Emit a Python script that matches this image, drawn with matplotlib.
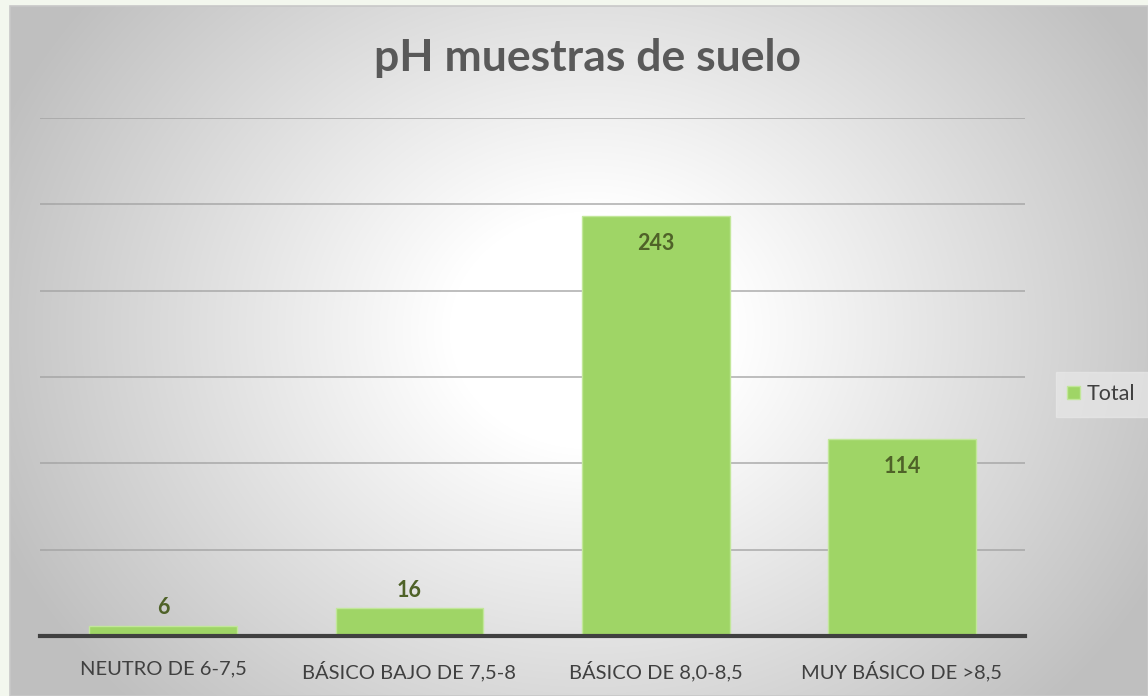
import numpy as np
import matplotlib.pyplot as plt
from matplotlib.patches import Rectangle

categories = ["NEUTRO DE 6-7,5", "BÁSICO BAJO DE 7,5-8", "BÁSICO DE 8,0-8,5", "MUY BÁSICO DE >8,5"]
values = [6, 16, 243, 114]
series_name = "Total"
title = "pH muestras de suelo"

plt.rcParams['font.family'] = ['Lato', 'DejaVu Sans']

W, H = 1148, 696
fig = plt.figure(figsize=(W / 100, H / 100), dpi=100)
fig.patch.set_facecolor('white')

# page background strip + chart frame with radial gradient
bg = fig.add_axes([0, 0, 1, 1])
bg.set_xlim(0, W)
bg.set_ylim(H, 0)
bg.axis('off')
bg.add_patch(Rectangle((0, 0), W, H, color='#f3f7ee', zorder=0))
x0, y0 = 10, 6
yy, xx = np.mgrid[0:H - y0, 0:W - x0]
cx, cy = 590 - x0, 330 - y0
r = np.sqrt(((xx - cx) / 640.0) ** 2 + ((yy - cy) / 540.0) ** 2)
v = np.clip(1.0 - 0.25 * np.clip(r - 0.22, 0, None) / 0.78, 0.75, 1.0)
img = np.dstack([v, v, v])
bg.imshow(img, extent=(x0, W, H, y0), zorder=1, interpolation='bilinear', aspect='auto')
bg.add_patch(Rectangle((x0, y0), W - x0, H - y0, fill=False, edgecolor='#c8c8c8', lw=1.2, zorder=2))

# plot area
left, right, top, bottom = 40, 1025, 118, 636
ax = fig.add_axes([left / W, 1 - bottom / H, (right - left) / W, (bottom - top) / H])
ax.set_facecolor('none')
x = np.arange(len(categories))
bars = ax.bar(x, values, width=0.6, color='#9fd566', edgecolor='#c2e79a', linewidth=1.0,
              zorder=3, label=series_name)
ax.set_xlim(-0.5, len(categories) - 0.5)
ax.set_ylim(0, 300)
ax.set_yticks(np.arange(0, 301, 50))
ax.yaxis.grid(True, color='#a0a0a0', linewidth=1.2, alpha=0.8, zorder=0)
ax.tick_params(axis='y', left=False, labelleft=False)
ax.tick_params(axis='x', bottom=False, pad=14)
ax.set_xticks(x)
ax.set_xticklabels(categories, fontsize=14.5, color='#404040')
for s in ['top', 'left', 'right']:
    ax.spines[s].set_visible(False)
ax.spines['bottom'].set_color('#404040')
ax.spines['bottom'].set_linewidth(3)
ax.spines['bottom'].set_zorder(4)

for xi, v_ in zip(x, values):
    off = -27 if v_ > 50 else 18
    ax.annotate(str(v_), (xi, v_), xytext=(0, off), textcoords='offset pixels',
                ha='center', va='center', fontsize=15.5, fontweight='bold', color='#4f6228', zorder=5)

fig.text(587 / W, 1 - 58 / H, title, ha='center', va='center', fontsize=32,
         fontweight='bold', color='#595959')

# legend
bg.add_patch(Rectangle((1056, 372), 92, 45, color='#e8e8e8', alpha=0.7, zorder=3))
leg = fig.legend(handles=[bars], labels=[series_name], loc='center left',
                 bbox_to_anchor=(1067 / W, 1 - 394 / H), frameon=False, fontsize=15.5,
                 handlelength=0.6, handleheight=0.6, handletextpad=0.3, labelcolor='#404040',
                 borderpad=0, borderaxespad=0)

fig.savefig('out.png', dpi=100)
